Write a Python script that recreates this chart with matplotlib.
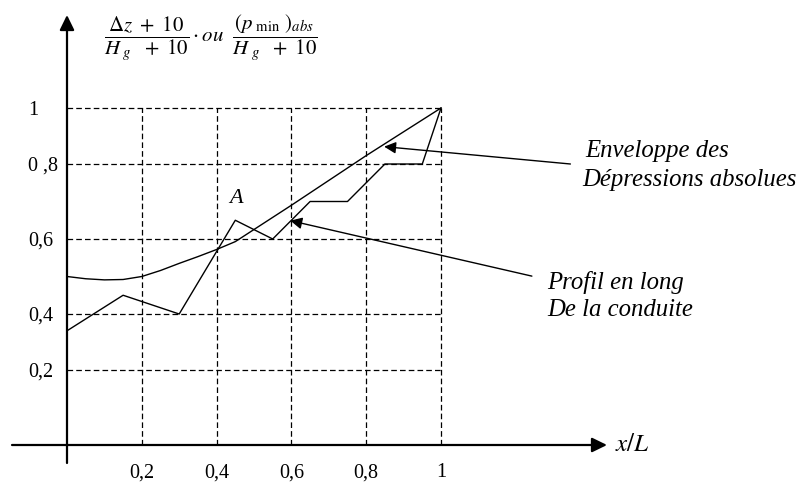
"""
Profil en long de la conduite et enveloppe des depressions absolues
(schema redessine avec matplotlib)
"""

import numpy as np
import matplotlib.pyplot as plt

plt.rcParams['font.family'] = ['Liberation Serif', 'DejaVu Serif']
plt.rcParams['mathtext.fontset'] = 'stix'

# Data (x/L and relative heights read from the schema)
profil_x = [0.0, 0.15, 0.30, 0.45, 0.55, 0.65, 0.75, 0.85, 0.95, 1.0]
profil_y = [0.34, 0.45, 0.40, 0.65, 0.60, 0.70, 0.70, 0.80, 0.80, 1.0]

enveloppe_x = [0.0, 0.05, 0.10, 0.15, 0.20, 0.25, 0.30, 0.35, 0.40, 0.45,
               0.60, 0.80, 1.0]
enveloppe_y = [0.50, 0.494, 0.491, 0.492, 0.50, 0.516, 0.535, 0.553, 0.572,
               0.593, 0.69, 0.83, 1.0]

x_ticks = [0.2, 0.4, 0.6, 0.8, 1.0]
x_labels = ['0,2', '0,4', '0,6', '0,8', '1']
y_ticks = [0.2, 0.4, 0.6, 0.8, 1.0]
y_labels = ['0,2', '0,4', '0,6', '0 ,8', '1']

# the schema's vertical axis is not evenly spaced: piecewise linear scale
scale_v = [-1.0, 0.0, 0.2, 0.4, 0.6, 0.8, 1.0, 2.0]
scale_p = [-375, 0, 75, 131, 206, 281, 337, 712]


def fwd(v):
    return np.interp(v, scale_v, scale_p)


def inv(p):
    return np.interp(p, scale_p, scale_v)


W, H = 803, 482
fig = plt.figure(figsize=(W / 100, H / 100), dpi=100)
ax = fig.add_axes([67 / W, (H - 445) / H, 374 / W, 337 / H])
ax.set_yscale('function', functions=(fwd, inv))
ax.set_xlim(0, 1)
ax.set_ylim(0, 1)
for s in ax.spines.values():
    s.set_visible(False)

# ticks labels
ax.set_xticks(x_ticks, x_labels, fontsize=14.5)
ax.set_yticks(y_ticks, y_labels, fontsize=14.5)
ax.tick_params(axis='x', length=0, pad=13)
ax.tick_params(axis='y', length=0, pad=28)
for lab in ax.get_yticklabels():
    lab.set_horizontalalignment('left')

# dashed grid
dash = (0, (4.5, 2.5))
ax.vlines(x_ticks, 0, 1, colors='k', lw=0.9, linestyles=dash, clip_on=False)
ax.hlines(y_ticks, 0, 1, colors='k', lw=0.9, linestyles=dash, clip_on=False)

# axes with arrows
arr = dict(arrowstyle='-|>,head_length=0.45,head_width=0.22', color='k',
           lw=1.6, mutation_scale=20, shrinkA=0, shrinkB=0)
ax.annotate('', xy=(0, 430 / 337), xytext=(0, -18 / 337),
            xycoords='axes fraction', textcoords='axes fraction', arrowprops=arr)
ax.annotate('', xy=(540 / 374, 0), xytext=(-55 / 374, 0),
            xycoords='axes fraction', textcoords='axes fraction', arrowprops=arr)

# curves
ax.plot(enveloppe_x, enveloppe_y, color='k', lw=1.0, clip_on=False)
ax.plot(profil_x, profil_y, color='k', lw=1.0, clip_on=False)

# labels
ax.text(1.465, 0, r'$x/L$', transform=ax.transAxes, fontsize=18,
        ha='left', va='center')
ax.text(0.385, 1.208,
        r'$\dfrac{\Delta z\ +\ 10}{H_{\ g}\ \ +\ 10}\cdot ou\ \ '
        r'\dfrac{(p_{\ \mathrm{min}}\ )_{abs}}{H_{\ g}\ \ +\ 10}$',
        transform=ax.transAxes, fontsize=15, ha='center', va='center')
ax.text(0.453, 0.709, 'A', style='italic', fontsize=16, ha='center', va='center')

tfont = dict(style='italic', fontsize=17.8, ha='left', va='center', clip_on=False)
ax.text(1.387, 0.846, 'Enveloppe des', **tfont)
ax.text(1.379, 0.757, 'Dépressions absolues', **tfont)
ax.text(1.283, 0.485, 'Profil en long', **tfont)
ax.text(1.283, 0.411, 'De la conduite', **tfont)

# pointer arrows
parr = dict(arrowstyle='-|>,head_length=0.7,head_width=0.35', color='k',
            lw=1.0, mutation_scale=10, shrinkA=0, shrinkB=0)
ax.annotate('', xy=(0.848, 0.862), xytext=(1.346, 0.80), arrowprops=parr,
            annotation_clip=False)
ax.annotate('', xy=(0.597, 0.649), xytext=(1.243, 0.501), arrowprops=parr,
            annotation_clip=False)

plt.savefig('out.png', dpi=100)
